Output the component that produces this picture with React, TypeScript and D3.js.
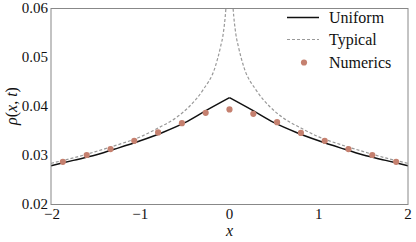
import React from 'react';
import * as d3 from 'd3';

// values
const uniformX = [-2, -1.75, -1.5, -1.25, -1, -0.75, -0.5, -0.25, 0, 0.25, 0.5, 0.75, 1, 1.25, 1.5, 1.75, 2];
const uniformY = [0.0278, 0.0289, 0.03, 0.0314, 0.0329, 0.0346, 0.0366, 0.0392, 0.0417, 0.0392, 0.0366, 0.0346, 0.0329, 0.0314, 0.03, 0.0289, 0.0278];

const typicalX = [-2, -1.75, -1.5, -1.25, -1, -0.8, -0.6, -0.45, -0.3, -0.16, -0.1, -0.07, -0.04, -0.02,
    0.02, 0.04, 0.07, 0.1, 0.16, 0.3, 0.45, 0.6, 0.8, 1, 1.25, 1.5, 1.75, 2];
const typicalY = [0.0283, 0.0294, 0.0307, 0.0321, 0.0337, 0.0355, 0.0376, 0.0399, 0.0432, 0.048, 0.0521, 0.0548, 0.06, 0.066,
    0.066, 0.06, 0.0548, 0.0521, 0.048, 0.0432, 0.0399, 0.0376, 0.0355, 0.0337, 0.0321, 0.0307, 0.0294, 0.0283];

const numericsX = [-1.867, -1.6, -1.333, -1.067, -0.8, -0.533, -0.267, 0, 0.267, 0.533, 0.8, 1.067, 1.333, 1.6, 1.867];
const numericsY = [0.0286, 0.03, 0.0312, 0.0329, 0.0346, 0.0365, 0.0386, 0.0393, 0.0384, 0.0367, 0.0345, 0.0329, 0.0312, 0.03, 0.0286];

const xTicks = [-2, -1, 0, 1, 2];
const yTicks = [0.02, 0.03, 0.04, 0.05, 0.06];
const legendLabels = ['Uniform', 'Typical', 'Numerics'];

const W = 416, H = 242;
const left = 51, right = 408, top = 8, bottom = 204;
const txt = { fontFamily: 'Liberation Serif', fill: '#111' };
const dotColor = '#c5806f';

const x = d3.scaleLinear().domain([-2, 2]).range([left, right]);
const y = d3.scaleLinear().domain([0.02, 0.06]).range([bottom, top]);

const line = d3.line<[number, number]>()
    .x(d => x(d[0]))
    .y(d => y(d[1]))
    .curve(d3.curveMonotoneX);

// split at x = 0 so the cusp stays sharp
const halves = (xs: number[], ys: number[]) => {
    const pts = xs.map((v, i) => [v, ys[i]] as [number, number]);
    return [pts.filter(p => p[0] <= 0), pts.filter(p => p[0] >= 0)];
};

const App = () => {
    const uni = halves(uniformX, uniformY);
    const typ = halves(typicalX, typicalY);

    return (
        <svg width={W} height={H} style={{ position: 'absolute', left: 0, top: 0, background: '#fff' }}>
            <defs>
                <clipPath id="plot">
                    <rect x={left} y={top} width={right - left} height={bottom - top} />
                </clipPath>
            </defs>

            <g clipPath="url(#plot)">
                {typ.map((h, i) => (
                    <path key={'t' + i} d={line(h) || ''} fill="none" stroke="#999" strokeWidth={1.2}
                        strokeDasharray="3,2" />
                ))}
                {uni.map((h, i) => (
                    <path key={'u' + i} d={line(h) || ''} fill="none" stroke="#111" strokeWidth={1.5} />
                ))}
                {numericsX.map((v, i) => (
                    <circle key={i} cx={x(v)} cy={y(numericsY[i])} r={3.1} fill={dotColor} />
                ))}
            </g>

            <rect x={left} y={top + 0.5} width={right - left} height={bottom - top} fill="none"
                stroke="#888" strokeWidth={1} />

            {yTicks.map(t => (
                <text key={t} x={left - 3} y={y(t)} dy="0.35em" textAnchor="end" fontSize={15} style={txt}>
                    {t.toFixed(2)}
                </text>
            ))}
            {xTicks.map((t, i) => (
                <text key={t} x={x(t) + (i === 0 ? 1 : 0)} y={bottom + 15} textAnchor="middle" fontSize={15} style={txt}>
                    {t < 0 ? '\u2212' + Math.abs(t) : t}
                </text>
            ))}

            <text x={x(0)} y={236} textAnchor="middle" fontSize={16} fontStyle="italic" style={txt}>x</text>
            <text transform={`translate(17,${(top + bottom) / 2}) rotate(-90)`} textAnchor="middle" fontSize={16} style={txt}>
                <tspan fontStyle="italic">ρ</tspan>(<tspan fontStyle="italic">x</tspan>, <tspan fontStyle="italic">t</tspan>)
            </text>

            <line x1={287} x2={319} y1={17.5} y2={17.5} stroke="#111" strokeWidth={1.5} />
            <text x={329} y={17.5} dy="0.35em" fontSize={16} style={txt}>{legendLabels[0]}</text>
            <line x1={287} x2={319} y1={39.5} y2={39.5} stroke="#999" strokeWidth={1.2} strokeDasharray="3,2" />
            <text x={329} y={39.5} dy="0.35em" fontSize={16} style={txt}>{legendLabels[1]}</text>
            <circle cx={304} cy={62.5} r={3.1} fill={dotColor} />
            <text x={329} y={62.5} dy="0.35em" fontSize={16} style={txt}>{legendLabels[2]}</text>
        </svg>
    );
};

export default App;
